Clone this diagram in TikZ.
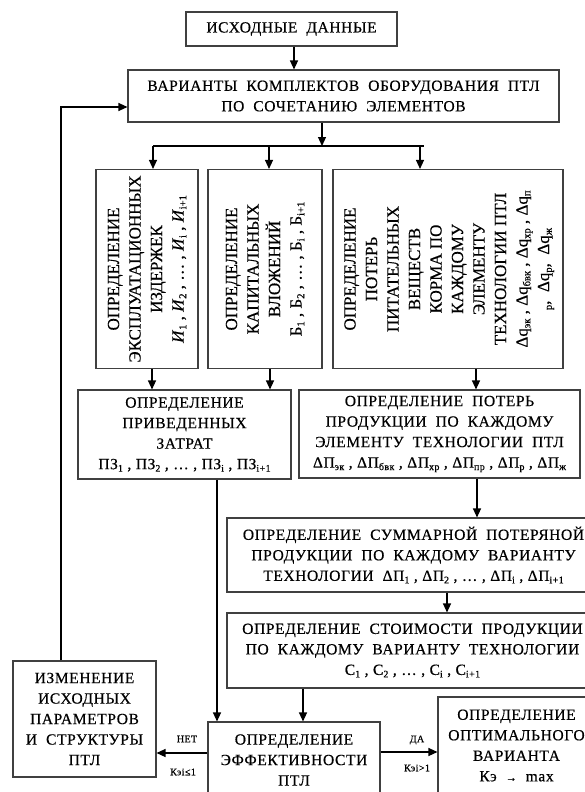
\documentclass[tikz,border=0pt]{standalone}
\usepackage{fontspec}
\setmainfont{Liberation Serif}[LetterSpace=4,FakeBold=0.5]
\newfontfamily\vfont{Liberation Serif}[FakeBold=0.4]
\usetikzlibrary{arrows.meta}
\newcommand\lsb[1]{\raisebox{-0.35ex}{\fontsize{10}{10}\selectfont #1}}
\newcommand\vsb[1]{\raisebox{-0.35ex}{\fontsize{10.5}{10.5}\selectfont #1}}
\begin{document}
\begin{tikzpicture}[x=1pt,y=-1pt,
  box/.style={draw=black!75, line width=1.1pt, inner sep=0pt, align=center,
    font=\fontsize{15.5}{20.5}\selectfont},
  arr/.style={line width=1.2pt, -{Triangle[length=9pt,width=8pt]}},
  ln/.style={line width=1.2pt},
  lbl/.style={font=\fontsize{10}{12}\selectfont, inner sep=0pt}]
\useasboundingbox (0,0) rectangle (585,792);
% boxes
\node[box, minimum width=211pt, minimum height=34pt] (src) at (291.5,29) {ИСХОДНЫЕ\ \ ДАННЫЕ};
\node[box, minimum width=431pt, minimum height=52pt] (var) at (343.5,96) {ВАРИАНТЫ\ \ КОМПЛЕКТОВ\ \ ОБОРУДОВАНИЯ\ \ ПТЛ\\ПО\ \ СОЧЕТАНИЮ\ \ ЭЛЕМЕНТОВ};
\node[box, minimum width=102pt, minimum height=199pt] (b1) at (147,269) {\rotatebox{90}{\vfont\fontsize{17}{21.5}\selectfont\begin{tabular}{@{}c@{}}ОПРЕДЕЛЕНИЕ\\ЭКСПЛУАТАЦИОННЫХ\\ИЗДЕРЖЕК\\\textit{И}\vsb{1} , \textit{И}\vsb{2} , … , \textit{И}\vsb{i} , \textit{И}\vsb{i+1}\end{tabular}}};
\node[box, minimum width=114pt, minimum height=199pt] (b2) at (265,269) {\rotatebox{90}{\vfont\fontsize{17}{21.5}\selectfont\begin{tabular}{@{}c@{}}ОПРЕДЕЛЕНИЕ\\КАПИТАЛЬНЫХ\\ВЛОЖЕНИЙ\\Б\vsb{1} , Б\vsb{2} , … , Б\vsb{i} , Б\vsb{i+1}\end{tabular}}};
\node[box, minimum width=230pt, minimum height=199pt] (b3) at (448,269) {\rotatebox{90}{\vfont\fontsize{17}{21.5}\selectfont\begin{tabular}{@{}c@{}}ОПРЕДЕЛЕНИЕ\\ПОТЕРЬ\\ПИТАТЕЛЬНЫХ\\ВЕЩЕСТВ\\КОРМА ПО\\КАЖДОМУ\\ЭЛЕМЕНТУ\\ТЕХНОЛОГИИ ПТЛ\\Δq\vsb{эк} , Δq\vsb{бвк} , Δq\vsb{хр} , Δq\vsb{п}\\\vsb{р},\ \ Δq\vsb{р},\ \ Δq\vsb{ж}\end{tabular}}};
\node[box, minimum width=213pt, minimum height=89pt] (pz) at (184.5,434.5) {ОПРЕДЕЛЕНИЕ\\ПРИВЕДЕННЫХ\\ЗАТРАТ\\ПЗ\lsb{1} , ПЗ\lsb{2} , … , ПЗ\lsb{i} , ПЗ\lsb{i+1}};
\node[box, minimum width=281pt, minimum height=88pt] (loss) at (439.5,434) {ОПРЕДЕЛЕНИЕ\ \ ПОТЕРЬ\\ПРОДУКЦИИ\ \ ПО\ \ КАЖДОМУ\\ЭЛЕМЕНТУ\ \ ТЕХНОЛОГИИ\ \ ПТЛ\\ΔП\lsb{эк} , ΔП\lsb{бвк} , ΔП\lsb{хр} , ΔП\lsb{пр} , ΔП\lsb{р} , ΔП\lsb{ж}};
\node[box, minimum width=373pt, minimum height=74pt] (sum) at (413.5,555) {ОПРЕДЕЛЕНИЕ\ \ СУММАРНОЙ\ \ ПОТЕРЯНОЙ\\ПРОДУКЦИИ\ \ ПО\ \ КАЖДОМУ\ \ ВАРИАНТУ\\ТЕХНОЛОГИИ\ \ ΔП\lsb{1} , ΔП\lsb{2} , … , ΔП\lsb{i} , ΔП\lsb{i+1}};
\node[box, minimum width=371pt, minimum height=75pt] (cost) at (412.5,650.5) {ОПРЕДЕЛЕНИЕ\ \ СТОИМОСТИ\ \ ПРОДУКЦИИ\\ПО\ \ КАЖДОМУ\ \ ВАРИАНТУ\ \ ТЕХНОЛОГИИ\\С\lsb{1} , С\lsb{2} , … , С\lsb{i} , С\lsb{i+1}};
\node[box, minimum width=172pt, minimum height=76pt] (eff) at (294,760) {ОПРЕДЕЛЕНИЕ\\ЭФФЕКТИВНОСТИ\\ПТЛ};
\node[box, minimum width=157pt, minimum height=97pt] (opt) at (516.5,745.5) {ОПРЕДЕЛЕНИЕ\\ОПТИМАЛЬНОГО\\ВАРИАНТА\\Кэ\ \ {\fontsize{11}{11}\selectfont →}\ \ max};
\node[box, minimum width=143pt, minimum height=116pt] (chg) at (84.5,719) {ИЗМЕНЕНИЕ\\ИСХОДНЫХ\\ПАРАМЕТРОВ\\И\ \ СТРУКТУРЫ\\ПТЛ};
% bus
\coordinate (bus) at (322,146);
\coordinate (a1) at (153,146);
\coordinate (a2) at (269,146);
\coordinate (a3) at (420,146);
% connectors
\draw[arr] ([xshift=2.5pt]src.south) -- ([xshift=2.5pt]src.south |- var.north);
\draw[arr] (bus |- var.south) -- (bus);
\draw[ln] (a1) -- ([xshift=4pt]a3);
\draw[arr] (a1) -- (a1 |- b1.north);
\draw[arr] (a2) -- (a2 |- b2.north);
\draw[arr] (a3) -- (a3 |- b3.north);
\draw[arr] ([xshift=5pt]b1.south) -- ([xshift=5pt]b1.south |- pz.north);
\draw[arr] ([xshift=5pt]b2.south) -- ([xshift=5pt]b2.south |- pz.north);
\draw[arr] ([xshift=28pt]b3.south) -- ([xshift=28pt]b3.south |- loss.north);
\draw[arr] ([xshift=32.5pt]pz.south) -- ([xshift=32.5pt]pz.south |- eff.north);
\draw[arr] ([xshift=37.5pt]loss.south) -- ([xshift=37.5pt]loss.south |- sum.north);
\draw[arr] ([xshift=33.5pt]sum.south) -- ([xshift=33.5pt]sum.south |- cost.north);
\draw[arr] ([xshift=9pt]eff.north |- cost.south) -- ([xshift=9pt]eff.north);
\draw[arr] ([yshift=7pt]eff.west) -- ([yshift=7pt]eff.west -| chg.east);
\draw[arr] ([yshift=8pt]eff.east) -- ([yshift=8pt]eff.east -| opt.west);
\draw[arr] ([xshift=-23.5pt]chg.north) |- ([yshift=-11pt]var.west);
% labels
\node[lbl] (net) at (187,739) {НЕТ};
\node[lbl] (k1) at (183,772) {Кэi≤1};
\node[lbl] (da) at (417,740) {ДА};
\node[lbl] (k2) at (417,768) {Кэi>1};
\end{tikzpicture}
\end{document}
